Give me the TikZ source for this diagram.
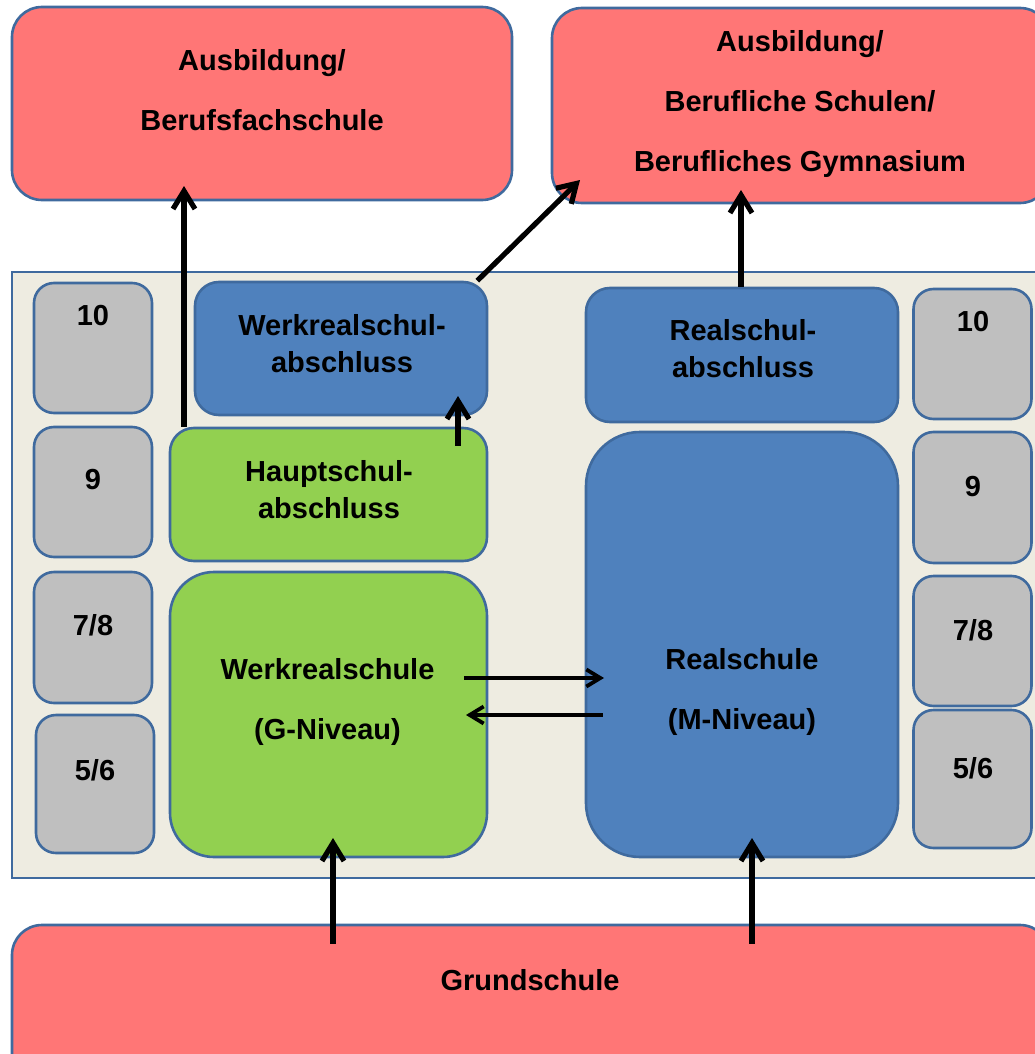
\documentclass[tikz,border=0pt]{standalone}
\usepackage{fontspec}
\setmainfont{Liberation Sans}
\usetikzlibrary{arrows.meta}
\definecolor{boxred}{HTML}{FF7676}
\definecolor{boxblue}{HTML}{4F81BD}
\definecolor{boxgreen}{HTML}{92D050}
\definecolor{boxgrey}{HTML}{BFBFBF}
\definecolor{panelbg}{HTML}{EEECE1}
\definecolor{edgeblue}{HTML}{3F6A9E}

\begin{document}
\begin{tikzpicture}[x=0.5pt,y=-0.5pt,
    box/.style={draw=edgeblue,line width=1.3pt,rounded corners=#1,inner sep=0pt},
    box/.default=12pt,
    grade/.style={box=10pt,fill=boxgrey,minimum width=59pt},
    bigtxt/.style={font=\bfseries\fontsize{14.5}{30}\selectfont,align=center,inner sep=0pt},
    smalltxt/.style={font=\bfseries\fontsize{14.5}{18.5}\selectfont,align=center,inner sep=0pt},
    uparrow/.style={line width=2.6pt,-{Straight Barb[length=9pt,width=11pt]}},
    sidearrow/.style={line width=1.9pt,-{Straight Barb[length=7pt,width=8.5pt]}}]
    \useasboundingbox (0,0) rectangle (1034,1054);
    % outer boxes
    \node[box=15pt,fill=boxred,minimum width=250pt,minimum height=96.5pt] (bfs) at (262,103.5) {};
    \node[box=15pt,fill=boxred,minimum width=249pt,minimum height=97.5pt] (bsg) at (801,105.5) {};
    \node[box=0pt,fill=panelbg,minimum width=519pt,minimum height=303pt] (panel) at (531,575) {};
    \node[box=15pt,fill=boxred,minimum width=519pt,minimum height=82.5pt] (gs) at (531,1007.5) {};
    \node[bigtxt] (bfsText) at (262,90.5) {Ausbildung/\\Berufsfachschule};
    \node[bigtxt] (bsgText) at (800,104) {Ausbildung/\\Berufliche Schulen/\\Berufliches Gymnasium};
    \node[bigtxt] (gsText) at (530,980) {Grundschule};
    % grades
    \node[grade,minimum height=65pt] (g10l) at (93,348) {};
    \node[grade,minimum height=65pt] (g9l) at (93,492) {};
    \node[grade,minimum height=65.5pt] (g78l) at (93,637.5) {};
    \node[grade,minimum height=69pt] (g56l) at (95,784) {};
    \node[grade,minimum height=65pt] (g10r) at (972.5,354) {};
    \node[grade,minimum height=65.5pt] (g9r) at (972.5,497.5) {};
    \node[grade,minimum height=65pt] (g78r) at (972.5,641) {};
    \node[grade,minimum height=69pt] (g56r) at (972.5,779) {};
    \node[smalltxt] (g10lText) at (93,316) {10};
    \node[smalltxt] (g9lText) at (93,480) {9};
    \node[smalltxt] (g78lText) at (93,625) {7/8};
    \node[smalltxt] (g56lText) at (95,770) {5/6};
    \node[smalltxt] (g10rText) at (973,322) {10};
    \node[smalltxt] (g9rText) at (973,487) {9};
    \node[smalltxt] (g78rText) at (973,630) {7/8};
    \node[smalltxt] (g56rText) at (973,768) {5/6};
    % schools
    \node[box=12pt,fill=boxblue,minimum width=146pt,minimum height=66.5pt] (wra) at (341,348.5) {};
    \node[box=12pt,fill=boxgreen,minimum width=158.5pt,minimum height=66.5pt] (hsa) at (328.5,494.5) {};
    \node[box=22pt,fill=boxgreen,minimum width=158.5pt,minimum height=142.5pt] (wrs) at (328.5,714.5) {};
    \node[box=12pt,fill=boxblue,minimum width=156pt,minimum height=67pt] (rsa) at (742,355) {};
    \node[box=27pt,fill=boxblue,minimum width=156pt,minimum height=212.5pt] (rs) at (742,644.5) {};
    \node[smalltxt] (wraText) at (342,343.5) {Werkrealschul-\\abschluss};
    \node[smalltxt] (hsaText) at (329,489.5) {Hauptschul-\\abschluss};
    \node[bigtxt] (wrsText) at (327.5,701.5) {Werkrealschule\\(G-Niveau)};
    \node[smalltxt] (rsaText) at (743,349) {Realschul-\\abschluss};
    \node[bigtxt] (rsText) at (742,691.5) {Realschule\\(M-Niveau)};
    % arrows
    \coordinate (bfsTip) at (184,186);
    \coordinate (wraTip) at (458,396);
    \coordinate (bsgTip) at (580,180);
    \coordinate (bsgTip2) at (741,190);
    \coordinate (wrsTip) at (333,838);
    \coordinate (rsTip) at (752,838);
    \coordinate (rsIn) at (604,678);
    \coordinate (wrsIn) at (466,715);
    \draw[uparrow] (hsa.north -| bfsTip) -- (bfsTip);
    \draw[uparrow] ([yshift=-9.5pt]hsa.north -| wraTip) -- (wraTip);
    \draw[uparrow] ([xshift=-5.5pt]wra.north east) -- (bsgTip);
    \draw[uparrow] (rsa.north -| bsgTip2) -- (bsgTip2);
    \draw[uparrow] ([yshift=-10pt]gs.north -| wrsTip) -- (wrsTip);
    \draw[uparrow] ([yshift=-10pt]gs.north -| rsTip) -- (rsTip);
    \draw[sidearrow] ([xshift=-12pt]wrs.east |- rsIn) -- (rsIn);
    \draw[sidearrow] ([xshift=9pt]rs.west |- wrsIn) -- (wrsIn);
\end{tikzpicture}
\end{document}
